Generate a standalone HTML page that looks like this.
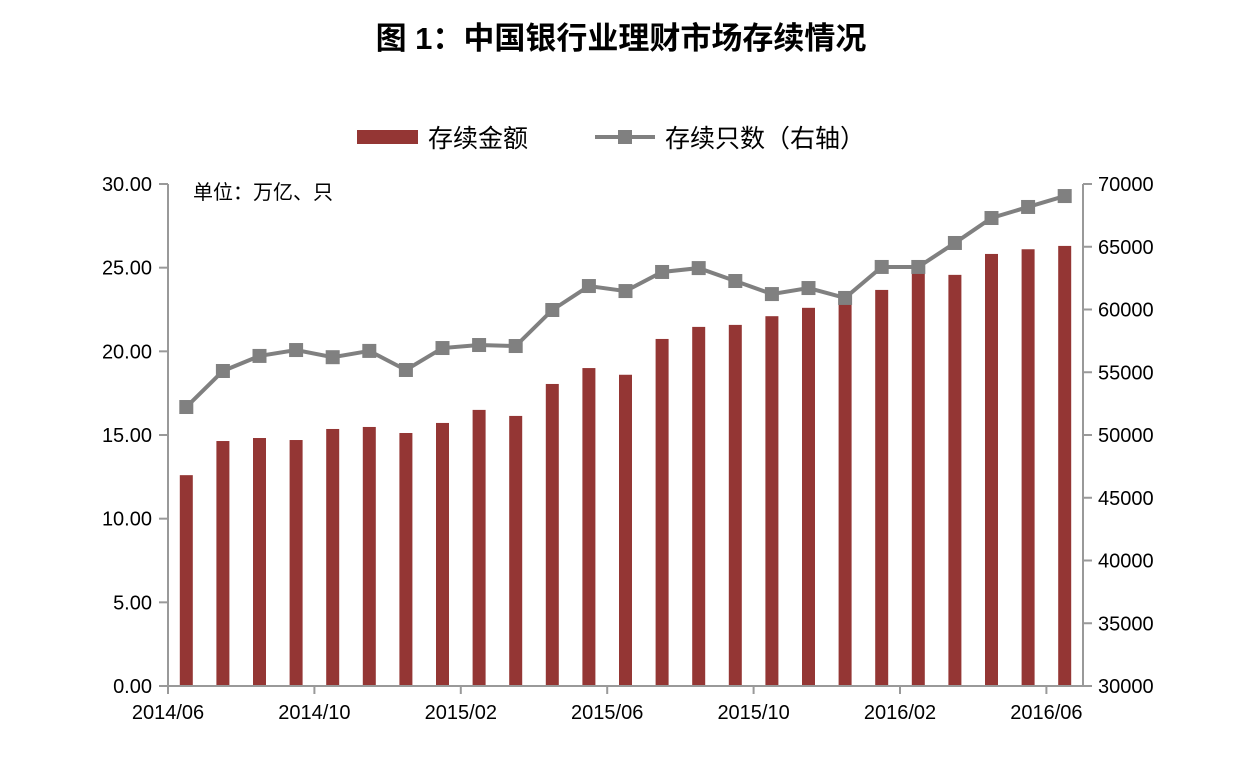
<!DOCTYPE html>
<html><head><meta charset="utf-8"><style>
body{margin:0;background:#fff;width:1242px;height:772px;overflow:hidden}
text{font-family:"Liberation Sans","Noto Sans CJK SC",sans-serif}
</style></head><body>
<svg id="c" width="1242" height="772">
<text x="621" y="49" text-anchor="middle" font-size="31" font-weight="bold">图 1：中国银行业理财市场存续情况</text>
<g>
<rect x="357" y="130" width="61" height="14" fill="#943634"/>
<text x="428" y="147" font-size="25">存续金额</text>
<line x1="595" y1="137" x2="655" y2="137" stroke="#808080" stroke-width="4"/>
<rect x="618" y="130" width="14" height="14" fill="#808080"/>
<text x="665" y="147" font-size="25">存续只数（右轴）</text>
</g>
<text x="193" y="199" font-size="20">单位：万亿、只</text>
<g id="g"></g>
</svg>
<script>
const categories=["2014/06","2014/07","2014/08","2014/09","2014/10","2014/11","2014/12","2015/01","2015/02","2015/03","2015/04","2015/05","2015/06","2015/07","2015/08","2015/09","2015/10","2015/11","2015/12","2016/01","2016/02","2016/03","2016/04","2016/05","2016/06"];
const amounts=[12.6,14.64,14.82,14.7,15.36,15.48,15.12,15.72,16.5,16.14,18.05,19.0,18.6,20.74,21.46,21.58,22.1,22.6,23.07,23.67,24.75,24.57,25.82,26.1,26.3];
const counts=[52230,55100,56300,56770,56200,56700,55180,56930,57170,57090,59960,61870,61470,62990,63300,62270,61230,61710,60920,63390,63390,65300,67290,68170,69040];
const leftTicks=[0,5,10,15,20,25,30];
const rightTicks=[30000,35000,40000,45000,50000,55000,60000,65000,70000];
const X0=168,X1=1083,Y0=686,Y1=184;
const bw=(X1-X0)/categories.length;
const yL=v=>Y0-(v/30)*(Y0-Y1);
const yR=v=>Y0-((v-30000)/40000)*(Y0-Y1);
const xc=i=>X0+bw*(i+0.5);
const g=document.getElementById('g');const NS="http://www.w3.org/2000/svg";
function mk(t,a,p){const e=document.createElementNS(NS,t);for(const k in a)e.setAttribute(k,a[k]);(p||g).appendChild(e);return e;}
amounts.forEach((v,i)=>{const r=mk('rect',{x:xc(i)-6.5,y:yL(v),width:13,height:Y0-yL(v),fill:'#943634'});

});
let a=mk('line',{x1:X0,y1:Y1,x2:X0,y2:Y0,stroke:'#999','stroke-width':2});


a=mk('line',{x1:X1,y1:Y1,x2:X1,y2:Y0,stroke:'#999','stroke-width':2});


a=mk('line',{x1:X0,y1:Y0,x2:X1,y2:Y0,stroke:'#999','stroke-width':2});


leftTicks.forEach(v=>{mk('line',{x1:X0-9,x2:X0,y1:yL(v),y2:yL(v),stroke:'#999','stroke-width':2});
const t=mk('text',{x:X0-16,y:yL(v)+7,'text-anchor':'end','font-size':20});t.textContent=v.toFixed(2);

});
rightTicks.forEach(v=>{mk('line',{x1:X1,x2:X1+9,y1:yR(v),y2:yR(v),stroke:'#999','stroke-width':2});
const t=mk('text',{x:X1+15,y:yR(v)+7,'font-size':20});t.textContent=v;

});
categories.forEach((c,i)=>{if(i%4===0){const x=X0+bw*i;mk('line',{x1:x,x2:x,y1:Y0,y2:Y0+8,stroke:'#999','stroke-width':2});
const t=mk('text',{x:x,y:Y0+33,'text-anchor':'middle','font-size':20});t.textContent=c;

}});
const pl=mk('polyline',{points:counts.map((v,i)=>xc(i)+','+yR(v)).join(' '),fill:'none',stroke:'#808080','stroke-width':4});


counts.forEach((v,i)=>{const m=mk('rect',{x:xc(i)-7,y:yR(v)-7,width:14,height:14,fill:'#808080'});

});
</script>
</body></html>
